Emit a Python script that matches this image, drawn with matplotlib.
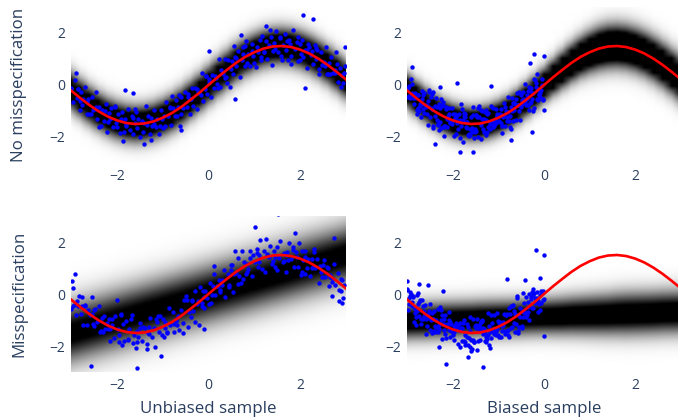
import numpy as np
import matplotlib
matplotlib.use("Agg")
import matplotlib.pyplot as plt

plt.rcParams['font.family'] = ['Open Sans', 'DejaVu Sans']

# x grid for the true function and the predictive bands
grid_x = [-3.0, -2.8, -2.6, -2.4, -2.2, -2.0, -1.8, -1.6, -1.4, -1.2, -1.0,
          -0.8, -0.6, -0.4, -0.2, 0.0, 0.2, 0.4, 0.6, 0.8, 1.0,
          1.2, 1.4, 1.6, 1.8, 2.0, 2.2, 2.4, 2.6, 2.8, 3.0]

# red line (true function)
true_y = [-0.21, -0.50, -0.77, -1.01, -1.21, -1.36, -1.46, -1.50, -1.48, -1.40, -1.26,
          -1.08, -0.85, -0.58, -0.30, 0.00, 0.30, 0.58, 0.85, 1.08, 1.26,
          1.40, 1.48, 1.50, 1.46, 1.36, 1.21, 1.01, 0.77, 0.50, 0.21]

# centre and spread of the grey predictive band in each panel
band_mid_tl = list(true_y)
band_sd_tl = [0.46] * 31
band_mid_tr = list(true_y)
band_sd_tr = [0.40] * 16 + [0.42, 0.44, 0.46, 0.48, 0.50, 0.52] + [0.53] * 9
band_mid_bl = [-1.5, -1.4, -1.3, -1.2, -1.1, -1.0, -0.9, -0.8, -0.7, -0.6, -0.5,
               -0.4, -0.3, -0.2, -0.1, 0.0, 0.1, 0.2, 0.3, 0.4, 0.5,
               0.6, 0.7, 0.8, 0.9, 1.0, 1.1, 1.2, 1.3, 1.4, 1.5]
band_sd_bl = [0.77] * 31
band_mid_br = [-1.05, -1.04, -1.03, -1.01, -1.00, -0.99, -0.98, -0.97, -0.95, -0.94, -0.93,
               -0.92, -0.91, -0.89, -0.88, -0.87, -0.86, -0.85, -0.83, -0.82, -0.81,
               -0.80, -0.79, -0.77, -0.76, -0.75, -0.74, -0.73, -0.71, -0.70, -0.69]
band_sd_br = [0.46] * 16 + [0.47, 0.48, 0.49, 0.50, 0.51, 0.52, 0.53, 0.54] + [0.55] * 7
# level at which each band turns fully black
band_sat = [0.69, 0.60, 0.92, 0.83]

# unbiased sample, no misspecification
x_tl = [-2.99, -2.95, -2.92, -2.87, -2.84, -2.81, -2.78, -2.76, -2.73, -2.69, -2.65, -2.62,
        -2.57, -2.54, -2.51, -2.48, -2.46, -2.43, -2.39, -2.35, -2.32, -2.27, -2.24, -2.21,
        -2.18, -2.16, -2.13, -2.09, -2.05, -2.02, -1.97, -1.94, -1.91, -1.88, -1.86, -1.83,
        -1.79, -1.75, -1.72, -1.67, -1.64, -1.61, -1.58, -1.56, -1.53, -1.49, -1.45, -1.42,
        -1.37, -1.34, -1.31, -1.28, -1.26, -1.23, -1.19, -1.15, -1.12, -1.07, -1.04, -1.01,
        -0.98, -0.96, -0.93, -0.89, -0.85, -0.82, -0.77, -0.74, -0.71, -0.68, -0.66, -0.63,
        -0.59, -0.55, -0.52, -0.47, -0.44, -0.41, -0.38, -0.36, -0.33, -0.29, -0.25, -0.22,
        -0.17, -0.14, -0.11, -0.08, -0.06, -0.03, 0.01, 0.05, 0.08, 0.13, 0.16, 0.19,
        0.22, 0.24, 0.27, 0.31, 0.35, 0.38, 0.43, 0.46, 0.49, 0.52, 0.54, 0.57,
        0.61, 0.65, 0.68, 0.73, 0.76, 0.79, 0.82, 0.84, 0.87, 0.91, 0.95, 0.98,
        1.03, 1.06, 1.09, 1.12, 1.14, 1.17, 1.21, 1.25, 1.28, 1.33, 1.36, 1.39,
        1.42, 1.44, 1.47, 1.51, 1.55, 1.58, 1.63, 1.66, 1.69, 1.72, 1.74, 1.77,
        1.81, 1.85, 1.88, 1.93, 1.96, 1.99, 2.02, 2.04, 2.07, 2.11, 2.15, 2.18,
        2.23, 2.26, 2.29, 2.32, 2.34, 2.37, 2.41, 2.45, 2.48, 2.53, 2.56, 2.59,
        2.62, 2.64, 2.67, 2.71, 2.75, 2.78, 2.83, 2.86, 2.89, 2.92, 2.94, 2.97,
        2.06, 2.28, 2.10, -2.89, -1.83, -1.65, -1.41, 0.02, 0.71, 1.26, 0.57, -0.60, 2.97,
        -3.00, -2.85, -2.80, -2.65, -2.60, -2.45, -2.40, -2.25, -2.20, -2.05, -2.00, -1.85,
        -1.80, -1.65, -1.60, -1.45, -1.40, -1.25, -1.20, -1.05, -1.00, -0.85, -0.80, -0.65,
        -0.60, -0.45, -0.40, -0.25, -0.20, -0.05, 0.00, 0.15, 0.20, 0.35, 0.40, 0.55,
        0.60, 0.75, 0.80, 0.95, 1.00, 1.15, 1.20, 1.35, 1.40, 1.55, 1.60, 1.75,
        1.80, 1.95, 2.00, 2.15, 2.20, 2.35, 2.40, 2.55, 2.60, 2.75, 2.80, 2.95]
y_tl = [-0.17, -0.64, 0.19, -0.51, -0.16, -0.98, -0.26, -0.75, -0.52, -0.08, -1.11, -0.54,
        -1.11, -0.46, -0.96, -0.94, -0.25, -1.29, -0.85, -1.56, -0.98, -1.38, -0.73, -1.79,
        -1.07, -1.29, -0.90, -1.62, -0.80, -1.48, -1.13, -1.83, -1.32, -1.05, -2.14, -1.30,
        -1.57, -0.91, -1.72, -1.19, -1.88, -1.47, -1.04, -1.67, -1.29, -2.01, -1.38, -1.80,
        -0.81, -1.53, -1.19, -1.90, -1.26, -1.56, -0.95, -1.63, -1.29, -1.88, -0.96, -1.32,
        -1.20, -1.56, -0.64, -1.21, -0.87, -1.55, -0.90, -1.20, -0.56, -1.19, -0.85, -1.57,
        -0.48, -0.90, -0.27, -0.86, -0.48, -1.11, -0.54, -0.13, -0.82, -0.13, -0.94, -0.28,
        -0.37, 0.47, -0.62, -0.15, 0.36, -0.34, 0.23, -0.45, 0.37, -0.12, 0.27, 0.05,
        0.99, -0.07, 0.58, 0.42, 1.00, 0.29, 0.98, -0.06, 0.63, 0.91, 0.41, 1.06,
        0.75, 1.32, 0.29, 0.98, 1.21, 0.72, 1.68, 0.86, 1.21, 0.74, 1.57, 1.10,
        0.68, 1.48, 1.26, 1.72, 1.08, 1.90, 1.28, 1.69, 0.99, 1.54, 1.86, 0.77,
        1.63, 1.40, 2.06, 1.26, 1.81, 1.12, 1.53, 1.96, 1.33, 1.69, 0.96, 1.59,
        1.13, 2.10, 1.38, 1.67, 0.92, 1.56, 1.20, 1.75, 1.07, 1.33, 0.67, 1.59,
        1.15, 1.29, 0.82, 1.55, 0.99, 1.34, 0.41, 1.27, 0.78, 0.89, 1.46, 0.43,
        0.86, 0.43, 1.08, 0.45, 0.59, 1.28, 0.10, 0.65, -0.06, 0.38, 0.08, 0.73,
        2.71, 2.55, -0.13, 0.45, -0.19, -0.32, -2.26, 1.29, 1.94, 2.26, -0.52, -1.74, 1.48,
        -0.13, -0.17, -0.63, -0.65, -1.13, -0.85, -1.62, -0.99, -1.42, -0.85, -1.60, -1.82,
        -1.50, -1.28, -0.93, -1.41, -1.45, -2.13, -1.50, -1.57, -1.66, -0.85, -0.41, -0.38,
        -1.10, -0.34, -0.55, -0.16, -0.31, 0.36, 0.11, 0.35, -0.12, 0.27, 0.07, 1.50,
        1.05, 1.45, 1.51, 1.29, 0.83, 0.96, 1.28, 2.13, 1.31, 1.85, 0.98, 1.75,
        0.82, 1.85, 0.98, 1.34, 1.48, 1.41, 0.63, 0.75, 0.44, 0.45, 0.82, 0.46]

# biased sample (x < 0), no misspecification
x_tr = [-2.99, -2.97, -2.95, -2.93, -2.91, -2.90, -2.88, -2.86, -2.84, -2.82,
        -2.79, -2.77, -2.75, -2.73, -2.71, -2.70, -2.68, -2.66, -2.64, -2.62,
        -2.59, -2.57, -2.55, -2.53, -2.51, -2.50, -2.48, -2.46, -2.44, -2.42,
        -2.39, -2.37, -2.35, -2.33, -2.31, -2.30, -2.28, -2.26, -2.24, -2.22,
        -2.19, -2.17, -2.15, -2.13, -2.11, -2.10, -2.08, -2.06, -2.04, -2.02,
        -1.99, -1.97, -1.95, -1.93, -1.91, -1.90, -1.88, -1.86, -1.84, -1.82,
        -1.79, -1.77, -1.75, -1.73, -1.71, -1.70, -1.68, -1.66, -1.64, -1.62,
        -1.59, -1.57, -1.55, -1.53, -1.51, -1.50, -1.48, -1.46, -1.44, -1.42,
        -1.39, -1.37, -1.35, -1.33, -1.31, -1.30, -1.28, -1.26, -1.24, -1.22,
        -1.19, -1.17, -1.15, -1.13, -1.11, -1.10, -1.08, -1.06, -1.04, -1.02,
        -0.99, -0.97, -0.95, -0.93, -0.91, -0.90, -0.88, -0.86, -0.84, -0.82,
        -0.79, -0.77, -0.75, -0.73, -0.71, -0.70, -0.68, -0.66, -0.64, -0.62,
        -0.59, -0.57, -0.55, -0.53, -0.51, -0.50, -0.48, -0.46, -0.44, -0.42,
        -0.39, -0.37, -0.35, -0.33, -0.31, -0.30, -0.28, -0.26, -0.24, -0.22,
        -0.19, -0.17, -0.15, -0.13, -0.11, -0.10, -0.08, -0.06, -0.04, -0.02,
        -0.21, -0.01, -0.31, -2.90, -1.91, -1.15, -0.27, -1.84, -1.56, -2.39,
        -2.20, -0.73, 0.00, -2.28,
        -2.98, -2.95, -2.92, -2.88, -2.85, -2.82, -2.78, -2.75, -2.72, -2.68, -2.65, -2.62,
        -2.58, -2.55, -2.52, -2.48, -2.45, -2.42, -2.38, -2.35, -2.32, -2.28, -2.25, -2.22,
        -2.18, -2.15, -2.12, -2.08, -2.05, -2.02, -1.98, -1.95, -1.92, -1.88, -1.85, -1.82,
        -1.78, -1.75, -1.72, -1.68, -1.65, -1.62, -1.58, -1.55, -1.52, -1.48, -1.45, -1.42,
        -1.38, -1.35, -1.32, -1.28, -1.25, -1.22, -1.18, -1.15, -1.12, -1.08, -1.05, -1.02,
        -0.98, -0.95, -0.92, -0.88, -0.85, -0.82, -0.78, -0.75, -0.72, -0.68, -0.65, -0.62,
        -0.58, -0.55, -0.52, -0.48, -0.45, -0.42, -0.38, -0.35, -0.32, -0.28, -0.25, -0.22,
        -0.18, -0.15, -0.12, -0.08, -0.05, -0.02]
y_tr = [-0.17, -0.47, -0.41, -0.50, 0.24, -0.29, 0.03, -0.49, -0.35, -0.51,
        -0.98, -0.90, -0.39, -1.01, -0.81, -1.22, -0.53, -0.72, -0.39, -0.32,
        -0.75, -1.13, -1.54, -0.81, -0.18, -1.22, -0.48, -0.34, -0.25, -1.58,
        -0.81, -0.50, -0.86, -1.54, -0.73, -1.72, -1.44, -1.66, -0.82, -0.78,
        -1.63, -1.56, -0.83, -1.60, -1.20, -1.31, -0.89, -1.48, -1.42, -1.50,
        -1.11, -1.97, -1.12, -1.23, -1.17, -1.48, -1.37, -1.13, -1.33, -1.57,
        -0.93, -2.19, -1.19, -1.24, -1.42, -1.62, -1.66, -1.94, -1.89, -1.71,
        -1.24, -1.81, -1.17, -2.03, -1.81, -1.77, -1.14, -1.22, -0.87, -0.79,
        -0.95, -1.55, -1.29, -1.69, -1.32, -1.05, -0.96, -1.91, -1.81, -1.61,
        -1.51, -1.48, -0.79, -1.42, -0.88, -1.56, -1.33, -1.47, -1.22, -1.18,
        -1.18, -1.13, -0.91, -1.56, -1.84, -1.22, -0.69, -1.59, -1.00, -1.40,
        -1.05, -1.38, -1.60, -1.69, -1.01, -0.50, -0.70, -0.98, -0.74, -1.33,
        -0.31, -0.77, -0.26, -0.76, -0.37, -0.83, -0.56, -0.26, -0.54, -0.67,
        -0.78, -0.55, -0.75, -0.98, -0.24, -0.70, -0.11, -0.54, -0.29, 0.25,
        0.21, -0.09, 0.43, -0.58, -0.35, -0.37, -0.46, -0.21, 0.23, -0.57,
        1.20, 1.10, 0.84, 0.71, 0.06, -0.04, -1.81, -2.58, -2.58, -2.28,
        -1.97, -2.13, -0.97, -0.06,
        -0.13, -0.03, -0.35, -0.38, -0.72, -0.32, -1.12, -0.39, -0.74, -0.22, -0.91, -1.08,
        -0.86, -0.62, -0.27, -0.88, -0.94, -1.66, -1.20, -1.34, -1.51, -0.89, -0.55, -0.64,
        -1.56, -0.94, -1.29, -1.12, -1.41, -0.89, -1.36, -1.27, -1.88, -1.68, -2.02, -0.73,
        -1.34, -1.06, -1.10, -1.43, -1.97, -1.91, -1.65, -0.84, -1.68, -1.14, -2.01, -1.22,
        -2.09, -1.01, -1.82, -1.34, -1.12, -1.09, -1.70, -1.46, -1.63, -1.42, -0.91, -1.13,
        -1.38, -1.48, -1.16, -1.18, -0.84, -1.24, -0.48, -1.21, -0.86, -1.39, -0.70, -0.53,
        -0.77, -1.01, -1.36, -0.73, -0.67, 0.05, -0.38, -0.24, -0.07, -0.65, -0.99, -0.90,
        0.08, -0.54, -0.19, -0.29, 0.00, -0.52]

# unbiased sample, misspecified model
x_bl = [-3.00, -2.96, -2.93, -2.88, -2.85, -2.82, -2.79, -2.77, -2.74, -2.70, -2.66, -2.63,
        -2.58, -2.55, -2.52, -2.49, -2.47, -2.44, -2.40, -2.36, -2.33, -2.28, -2.25, -2.22,
        -2.19, -2.17, -2.14, -2.10, -2.06, -2.03, -1.98, -1.95, -1.92, -1.89, -1.87, -1.84,
        -1.80, -1.76, -1.73, -1.68, -1.65, -1.62, -1.59, -1.57, -1.54, -1.50, -1.46, -1.43,
        -1.38, -1.35, -1.32, -1.29, -1.27, -1.24, -1.20, -1.16, -1.13, -1.08, -1.05, -1.02,
        -0.99, -0.97, -0.94, -0.90, -0.86, -0.83, -0.78, -0.75, -0.72, -0.69, -0.67, -0.64,
        -0.60, -0.56, -0.53, -0.48, -0.45, -0.42, -0.39, -0.37, -0.34, -0.30, -0.26, -0.23,
        -0.18, -0.15, -0.12, -0.09, -0.07, -0.04, 0.00, 0.04, 0.07, 0.12, 0.15, 0.18,
        0.21, 0.23, 0.26, 0.30, 0.34, 0.37, 0.42, 0.45, 0.48, 0.51, 0.53, 0.56,
        0.60, 0.64, 0.67, 0.72, 0.75, 0.78, 0.81, 0.83, 0.86, 0.90, 0.94, 0.97,
        1.02, 1.05, 1.08, 1.11, 1.13, 1.16, 1.20, 1.24, 1.27, 1.32, 1.35, 1.38,
        1.41, 1.43, 1.46, 1.50, 1.54, 1.57, 1.62, 1.65, 1.68, 1.71, 1.73, 1.76,
        1.80, 1.84, 1.87, 1.92, 1.95, 1.98, 2.01, 2.03, 2.06, 2.10, 2.14, 2.17,
        2.22, 2.25, 2.28, 2.31, 2.33, 2.36, 2.40, 2.44, 2.47, 2.52, 2.55, 2.58,
        2.61, 2.63, 2.66, 2.70, 2.74, 2.77, 2.82, 2.85, 2.88, 2.91, 2.93, 2.96,
        1.52, 1.01, 1.88, 2.74, -2.57, -1.55, -1.99, -2.97, -2.92, -0.09, -0.20, 0.13,
        0.57, 2.10, 2.69, 2.91, -1.04,
        -2.95, -2.90, -2.75, -2.70, -2.55, -2.50, -2.35, -2.30, -2.15, -2.10, -1.95, -1.90,
        -1.75, -1.70, -1.55, -1.50, -1.35, -1.30, -1.15, -1.10, -0.95, -0.90, -0.75, -0.70,
        -0.55, -0.50, -0.35, -0.30, -0.15, -0.10, 0.05, 0.10, 0.25, 0.30, 0.45, 0.50,
        0.65, 0.70, 0.85, 0.90, 1.05, 1.10, 1.25, 1.30, 1.45, 1.50, 1.65, 1.70,
        1.85, 1.90, 2.05, 2.10, 2.25, 2.30, 2.45, 2.50, 2.65, 2.70, 2.85, 2.90]
y_bl = [-0.58, 0.24, -0.44, -0.25, -0.47, -0.08, -0.78, -0.13, -1.19, -0.48, -1.19, -0.61,
        -0.82, -0.13, -1.17, -1.23, -0.58, -1.08, -0.45, -1.48, -0.91, -0.86, -1.35, -1.12,
        -1.33, -0.98, -1.80, -1.21, -1.68, -0.85, -1.35, -1.57, -0.77, -1.97, -1.15, -1.79,
        -1.04, -1.74, -1.33, -0.80, -1.89, -1.57, -2.07, -1.41, -1.64, -1.11, -1.80, -1.25,
        -1.30, -1.93, -1.50, -1.54, -0.91, -1.64, -1.31, -2.03, -1.06, -1.47, -0.83, -1.58,
        -0.96, -1.64, -1.09, -1.47, -0.55, -1.21, -0.68, -1.15, -1.01, -1.18, -0.83, -1.39,
        -0.61, -1.10, -0.24, -0.24, -1.27, -0.70, -0.89, -0.24, -0.67, -1.08, -0.39, -0.25,
        0.26, -0.45, 0.10, -0.52, 0.13, -0.17, -0.40, 0.43, -0.04, 0.78, -0.04, 0.31,
        0.32, 0.55, 0.06, 0.35, 0.92, -0.11, 0.77, 0.27, 0.92, 1.12, 0.08, 0.77,
        0.82, 1.40, 0.69, 1.65, 0.59, 1.24, 0.78, 1.17, 0.95, 1.37, 0.69, 1.51,
        1.23, 1.74, 1.04, 1.23, 2.07, 0.98, 1.67, 0.86, 1.52, 1.44, 1.85, 1.16,
        1.28, 1.66, 1.03, 1.81, 1.39, 2.02, 1.22, 1.56, 0.84, 1.61, 1.31, 1.95,
        1.36, 1.70, 1.02, 1.41, 1.05, 1.97, 0.75, 1.67, 1.31, 1.67, 0.99, 1.33,
        0.70, 1.34, 1.04, 1.73, 1.01, 1.35, 0.44, 1.07, 0.65, 1.30, 0.67, 1.05,
        1.01, 0.32, 0.73, 0.48, 1.14, 0.33, 0.82, -0.27, 0.57, 0.55, -0.15, 0.36,
        3.07, 2.59, 2.33, 2.16, -2.77, -2.84, -0.22, 0.50, 0.76, -1.33, -1.20, 1.08,
        1.67, 0.76, -0.09, -0.35, -2.38,
        -0.46, -0.82, -0.45, -0.44, -0.75, -0.63, -1.41, -1.48, -1.34, -0.98, -1.85, -0.82,
        -1.75, -0.98, -1.85, -1.31, -2.13, -1.28, -0.96, -0.83, -1.29, -1.51, -1.45, -1.05,
        -1.50, -0.07, -0.27, 0.12, -0.35, -0.11, -0.36, 0.31, 0.16, 0.55, 0.34, 1.10,
        0.38, 0.41, 0.85, 1.66, 1.57, 1.50, 2.13, 1.45, 1.41, 0.93, 1.28, 1.50,
        1.82, 1.60, 0.85, 1.42, 0.99, 1.62, 0.85, 1.13, 0.65, 0.63, 0.17, 0.13]

# biased sample (x < 0), misspecified model
x_br = [-3.00, -2.98, -2.96, -2.94, -2.92, -2.89, -2.87, -2.85, -2.83, -2.81,
        -2.80, -2.78, -2.76, -2.74, -2.72, -2.69, -2.67, -2.65, -2.63, -2.61,
        -2.60, -2.58, -2.56, -2.54, -2.52, -2.49, -2.47, -2.45, -2.43, -2.41,
        -2.40, -2.38, -2.36, -2.34, -2.32, -2.29, -2.27, -2.25, -2.23, -2.21,
        -2.20, -2.18, -2.16, -2.14, -2.12, -2.09, -2.07, -2.05, -2.03, -2.01,
        -2.00, -1.98, -1.96, -1.94, -1.92, -1.89, -1.87, -1.85, -1.83, -1.81,
        -1.80, -1.78, -1.76, -1.74, -1.72, -1.69, -1.67, -1.65, -1.63, -1.61,
        -1.60, -1.58, -1.56, -1.54, -1.52, -1.49, -1.47, -1.45, -1.43, -1.41,
        -1.40, -1.38, -1.36, -1.34, -1.32, -1.29, -1.27, -1.25, -1.23, -1.21,
        -1.20, -1.18, -1.16, -1.14, -1.12, -1.09, -1.07, -1.05, -1.03, -1.01,
        -1.00, -0.98, -0.96, -0.94, -0.92, -0.89, -0.87, -0.85, -0.83, -0.81,
        -0.80, -0.78, -0.76, -0.74, -0.72, -0.69, -0.67, -0.65, -0.63, -0.61,
        -0.60, -0.58, -0.56, -0.54, -0.52, -0.49, -0.47, -0.45, -0.43, -0.41,
        -0.40, -0.38, -0.36, -0.34, -0.32, -0.29, -0.27, -0.25, -0.23, -0.21,
        -0.20, -0.18, -0.16, -0.14, -0.12, -0.09, -0.07, -0.05, -0.03, -0.01,
        -0.18, -0.01, -2.15, -1.34, -2.99, -2.55, -2.74, -0.42, -0.09, 0.00,
        -2.29, -1.67, -0.82, -2.22,
        -2.99, -2.96, -2.93, -2.89, -2.86, -2.83, -2.79, -2.76, -2.73, -2.69, -2.66, -2.63,
        -2.59, -2.56, -2.53, -2.49, -2.46, -2.43, -2.39, -2.36, -2.33, -2.29, -2.26, -2.23,
        -2.19, -2.16, -2.13, -2.09, -2.06, -2.03, -1.99, -1.96, -1.93, -1.89, -1.86, -1.83,
        -1.79, -1.76, -1.73, -1.69, -1.66, -1.63, -1.59, -1.56, -1.53, -1.49, -1.46, -1.43,
        -1.39, -1.36, -1.33, -1.29, -1.26, -1.23, -1.19, -1.16, -1.13, -1.09, -1.06, -1.03,
        -0.99, -0.96, -0.93, -0.89, -0.86, -0.83, -0.79, -0.76, -0.73, -0.69, -0.66, -0.63,
        -0.59, -0.56, -0.53, -0.49, -0.46, -0.43, -0.39, -0.36, -0.33, -0.29, -0.26, -0.23,
        -0.19, -0.16, -0.13, -0.09, -0.06, -0.03]
y_br = [0.20, -0.60, -0.16, 0.09, 0.00, -0.31, -0.08, -1.09, -0.57, -0.87,
        -1.19, -0.65, -0.40, -0.83, -0.24, -0.97, -0.23, -0.46, -0.66, -0.43,
        -0.82, -0.95, -1.23, -0.93, -0.66, -1.38, -0.99, -1.49, -0.98, -1.44,
        -0.65, -1.24, -1.00, -1.28, -1.48, -1.19, -0.51, -0.60, -0.82, -1.15,
        -0.98, -1.38, -0.79, -1.69, -1.16, -0.71, -0.99, -1.64, -1.42, -1.37,
        -1.51, -1.47, -1.22, -1.36, -1.13, -1.93, -1.39, -2.02, -1.33, -1.30,
        -1.30, -1.10, -1.00, -1.95, -1.86, -1.65, -1.28, -1.68, -1.42, -2.02,
        -2.20, -2.12, -1.77, -1.85, -1.22, -1.18, -0.96, -1.82, -1.18, -1.75,
        -1.26, -1.08, -1.03, -1.31, -1.35, -1.49, -1.67, -1.72, -0.72, -1.98,
        -1.24, -1.48, -1.68, -1.44, -1.33, -1.52, -1.46, -1.57, -0.72, -1.58,
        -1.05, -1.13, -1.07, -1.66, -1.24, -1.18, -0.78, -1.55, -0.82, -0.75,
        -1.42, -1.38, -0.54, -0.76, -0.48, -1.25, -0.44, -1.12, -1.48, -1.17,
        -0.17, -1.50, -1.41, -1.27, -0.53, -1.31, -0.68, 0.05, -0.36, -0.74,
        -0.89, -0.82, -0.49, -0.68, 0.01, -0.13, 0.07, -0.55, -0.04, 0.04,
        -0.15, -0.31, -0.17, -0.69, -0.37, -0.61, 0.13, 0.04, 0.10, -0.20,
        1.70, 1.50, -2.71, -2.80, 0.50, 0.33, 0.37, 0.54, 0.63, -1.63,
        -2.05, -2.44, 0.56, 0.10,
        0.15, -0.37, -0.08, -0.47, -0.12, -0.74, -0.04, 0.05, -0.29, -1.14, -0.97, -0.83,
        -1.54, -0.82, -0.76, -0.39, -0.74, -0.98, -1.45, -1.28, -0.59, -1.34, -0.99, -1.72,
        -1.14, -1.54, -1.20, -1.39, -1.07, -1.17, -1.56, -1.78, -1.27, -1.18, -1.35, -1.11,
        -1.82, -1.79, -1.57, -1.15, -1.96, -0.88, -1.77, -0.98, -1.85, -1.31, -2.15, -1.34,
        -1.06, -1.00, -1.54, -1.81, -1.85, -1.57, -2.08, -0.79, -1.13, -0.81, -1.42, -1.33,
        -1.66, -1.14, -1.43, -1.09, -1.44, -0.82, -1.56, -1.65, -1.31, -0.47, -0.64, -0.78,
        -0.09, -0.81, -0.87, -1.22, -0.87, -0.63, -0.13, -0.30, -0.99, -0.20, -0.55, 0.18,
        -0.34, 0.06, -0.28, -0.02, -0.34, -0.24]

row_titles = ["No misspecification", "Misspecification"]
col_titles = ["Unbiased sample", "Biased sample"]

panels = [
    (x_tl, y_tl, band_mid_tl, band_sd_tl),
    (x_tr, y_tr, band_mid_tr, band_sd_tr),
    (x_bl, y_bl, band_mid_bl, band_sd_bl),
    (x_br, y_br, band_mid_br, band_sd_br),
]

W, H = 678, 420
fig = plt.figure(figsize=(W / 100, H / 100), dpi=100)

# pixel boxes (left, top, right, bottom) of the four plot areas
boxes = [(71, 7, 346, 163), (407, 7, 681, 163),
         (71, 216, 346, 372), (407, 216, 681, 372)]

tick_color = '#2a3f5f'
gy = np.linspace(-3, 3, 241)

for k, (xs, ys, mid, sd) in enumerate(panels):
    l, t, r, b = boxes[k]
    ax = fig.add_axes([l / W, (H - b) / H, (r - l) / W, (b - t) / H])

    z = np.exp(-0.5 * ((gy[:, None] - np.array(mid)[None, :]) / np.array(sd)[None, :]) ** 2)
    ax.imshow(z, extent=[-3.1, 3.1, -3.0125, 3.0125], origin='lower', aspect='auto',
              cmap='gray_r', vmin=0, vmax=band_sat[k], interpolation='bilinear', zorder=1)

    ax.scatter(xs, ys, s=10, color='#0000ff', linewidths=0, zorder=2)
    ax.plot(grid_x, true_y, color='#ff0000', lw=1.9, zorder=3)

    ax.set_xlim(-3, 3)
    ax.set_ylim(-3, 3)
    ax.set_xticks([-2, 0, 2])
    ax.set_yticks([-2, 0, 2])
    ax.tick_params(length=0, labelsize=10, colors=tick_color, pad=4)
    for s in ax.spines.values():
        s.set_visible(False)

    if k % 2 == 0:
        ax.set_ylabel(row_titles[k // 2], fontsize=12.2, color=tick_color, labelpad=16)
    if k >= 2:
        ax.set_xlabel(col_titles[k - 2], fontsize=12.2, color=tick_color, labelpad=6)

fig.savefig('out.png', dpi=100)
